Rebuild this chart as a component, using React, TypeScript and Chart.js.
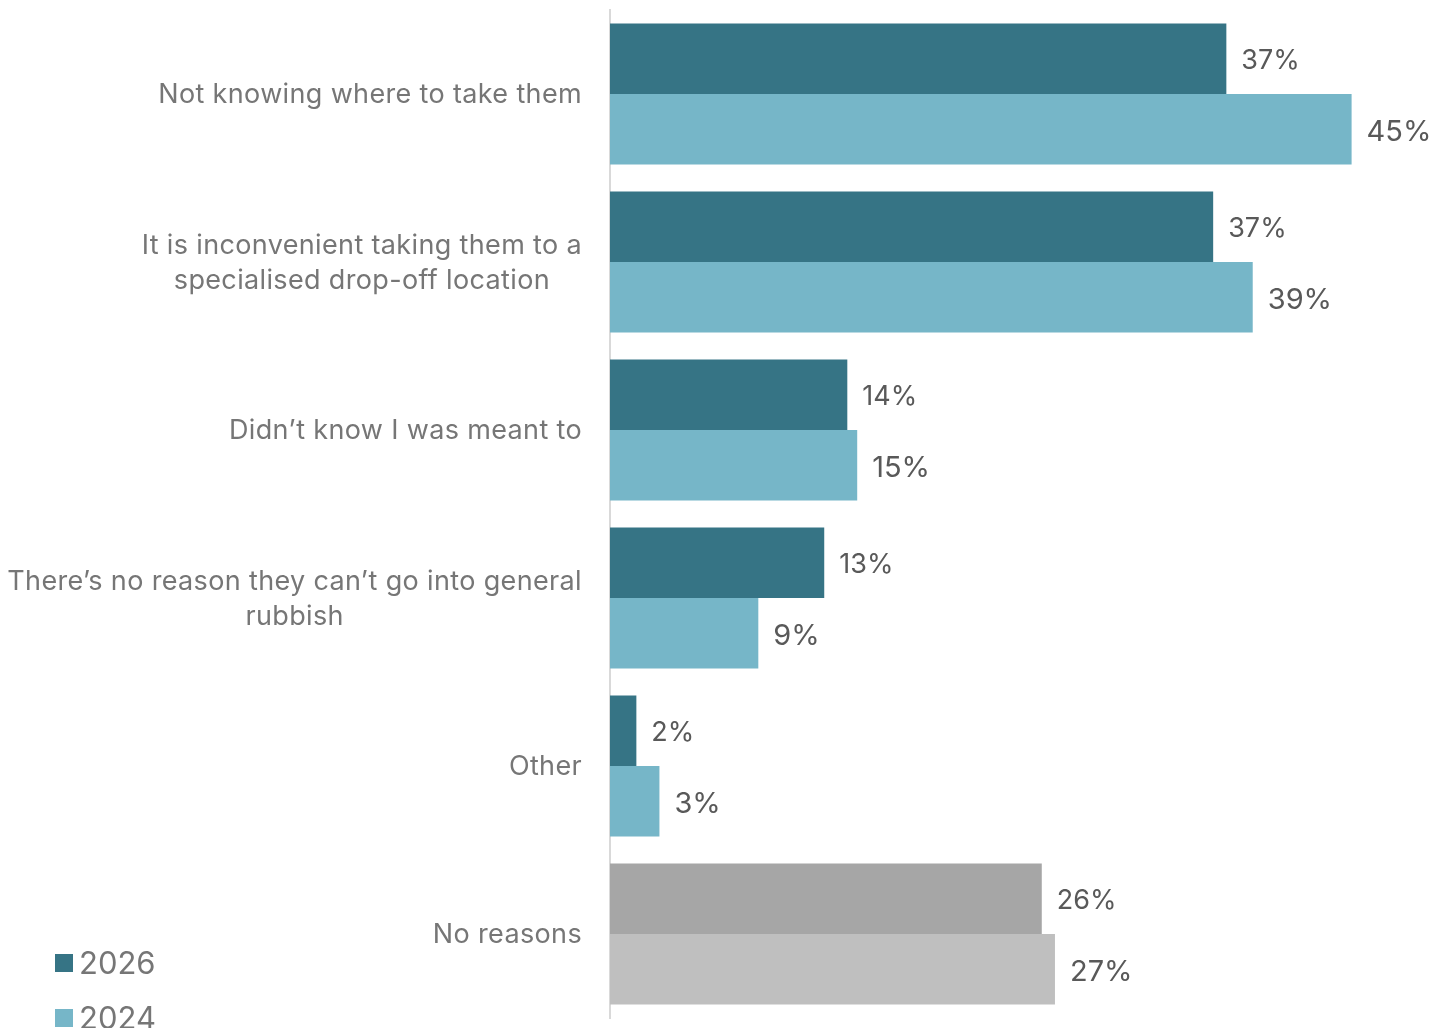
import { useEffect, useRef } from "react";
import { Chart, registerables } from "chart.js";

Chart.register(...registerables);

const categories: string[][] = [
  ["Not knowing where to take them"],
  ["It is inconvenient taking them to a", "specialised drop-off location"],
  ["Didn’t know I was meant to"],
  ["There’s no reason they can’t go into general", "rubbish"],
  ["Other"],
  ["No reasons"],
];
const series2026 = [37.4, 36.6, 14.4, 13.0, 1.6, 26.2];
const series2024 = [45.0, 39.0, 15.0, 9.0, 3.0, 27.0];
const labels2026 = ["37%", "37%", "14%", "13%", "2%", "26%"];
const labels2024 = ["45%", "39%", "15%", "9%", "3%", "27%"];
const colors2026 = ["#367485", "#367485", "#367485", "#367485", "#367485", "#a6a6a6"];
const colors2024 = ["#76b6c8", "#76b6c8", "#76b6c8", "#76b6c8", "#76b6c8", "#bfbfbf"];
const legendNames = ["2026", "2024"];
const legendColors = ["#367485", "#76b6c8"];

const FONT = "Inter";

const overlay = {
  id: "overlay",
  afterDraw(chart: any) {
    const ctx = chart.ctx;
    const y = chart.scales.y;
    ctx.save();
    // category labels
    ctx.fillStyle = "#767676";
    ctx.font = `27px ${FONT}`;
    (ctx as any).letterSpacing = "0.35px";
    ctx.textAlign = "center";
    ctx.textBaseline = "middle";
    categories.forEach((lines, i) => {
      const cy = y.getPixelForValue(i) + 1;
      const maxW = Math.max(...lines.map((l) => ctx.measureText(l).width));
      const cx = 582 - maxW / 2;
      const lh = 35;
      lines.forEach((l, k) => {
        ctx.fillText(l, cx, cy - ((lines.length - 1) * lh) / 2 + k * lh);
      });
    });
    (ctx as any).letterSpacing = "0px";
    // data labels
    ctx.textAlign = "left";
    ctx.fillStyle = "#595959";
    const sets = [labels2026, labels2024];
    const sizes = [27, 29];
    const dy = [2, 3];
    sets.forEach((labs, d) => {
      const meta = chart.getDatasetMeta(d);
      ctx.font = `${sizes[d]}px ${FONT}`;
      meta.data.forEach((bar: any, i: number) => {
        ctx.fillText(labs[i], bar.x + 15, bar.y + dy[d]);
      });
    });
    // legend
    ctx.font = `31px ${FONT}`;
    legendNames.forEach((n, k) => {
      const top = 954 + k * 55;
      ctx.fillStyle = legendColors[k];
      ctx.fillRect(55, top, 18, 18);
      ctx.fillStyle = "#767676";
      ctx.fillText(n, 79, top + 11);
    });
    ctx.restore();
  },
};

export default function App() {
  const ref = useRef<HTMLCanvasElement>(null);
  useEffect(() => {
    const chart = new Chart(ref.current!, {
      type: "bar",
      data: {
        labels: categories.map((c) => c.join(" ")),
        datasets: [
          { label: "2026", data: series2026, backgroundColor: colors2026, categoryPercentage: 0.84, barPercentage: 1 },
          { label: "2024", data: series2024, backgroundColor: colors2024, categoryPercentage: 0.84, barPercentage: 1 },
        ],
      },
      options: {
        indexAxis: "y",
        animation: false,
        responsive: false,
        maintainAspectRatio: false,
        layout: { padding: { top: 10, bottom: 10, left: 0, right: 0 } },
        plugins: { legend: { display: false }, tooltip: { enabled: false } },
        scales: {
          x: { display: false, min: 0, max: 50 },
          y: {
            display: true,
            grid: { display: false, drawTicks: false },
            ticks: { display: false },
            border: { display: true, color: "#d9d9d9", width: 2 },
            afterFit: (s: any) => {
              s.width = 610;
            },
          },
        },
      },
      plugins: [overlay],
    });
    return () => chart.destroy();
  }, []);
  return (
    <div style={{ position: "fixed", left: 0, top: 0, width: 1434, height: 1028, background: "#fff" }}>
      <canvas ref={ref} width={1434} height={1028} style={{ display: "block" }} />
    </div>
  );
}
